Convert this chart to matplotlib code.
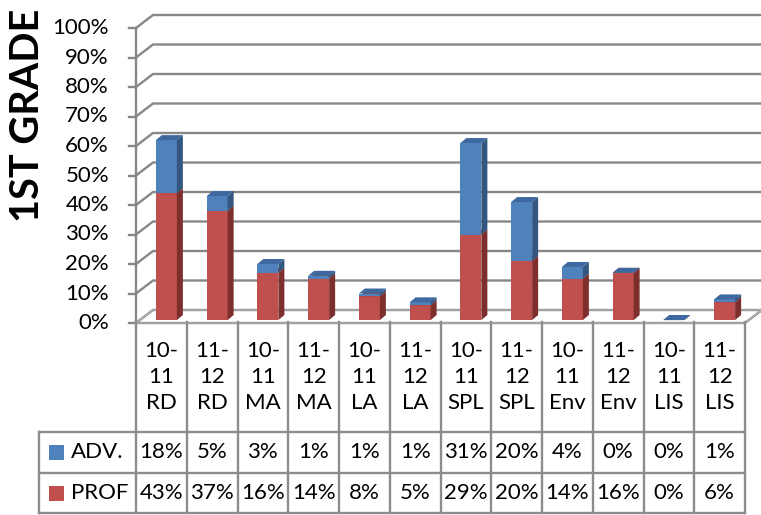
import matplotlib
matplotlib.use("Agg")
import matplotlib.pyplot as plt
from matplotlib.patches import Polygon, Rectangle

# data
categories = ["10-\n11\nRD", "11-\n12\nRD", "10-\n11\nMA", "11-\n12\nMA",
              "10-\n11\nLA", "11-\n12\nLA", "10-\n11\nSPL", "11-\n12\nSPL",
              "10-\n11\nEnv", "11-\n12\nEnv", "10-\n11\nLIS", "11-\n12\nLIS"]
prof = [43, 37, 16, 14, 8, 5, 29, 20, 14, 16, 0, 6]
adv = [18, 5, 3, 1, 1, 1, 31, 20, 4, 0, 0, 1]
series_names = ["ADV.", "PROF"]
yticks = list(range(0, 101, 10))

plt.rcParams["font.family"] = ["Lato", "DejaVu Sans"]
FS = 16

W, H = 761, 515
fig = plt.figure(figsize=(W / 100, H / 100), dpi=100)

# pixel geometry of the plot area
x0, x1 = 136, 745      # front edge of the floor / table columns
y0, y100 = 323, 28     # 0% and 100% on the front axis
ax = fig.add_axes([x0 / W, (H - y0) / H, (x1 - x0) / W, (y0 - y100) / H])
ax.set_xlim(-0.5, 11.5)
ax.set_ylim(0, 100)
ax.axis("off")

px_x = 12 / (x1 - x0)        # data units per pixel
px_y = 100 / (y0 - y100)

grid_c = "#878787"
wall_dx, wall_dy = 17 * px_x, 13 * px_y

# back wall gridlines + side wall diagonals
for t in yticks:
    ax.plot([-0.5, -0.5 + wall_dx, 11.5 + wall_dx + 0.5],
            [t, t + wall_dy, t + wall_dy], color=grid_c, lw=1.7,
            clip_on=False, zorder=1, solid_capstyle="butt")
    ax.plot([-0.5 - 7 * px_x, -0.5], [t, t], color=grid_c, lw=1.7,
            clip_on=False, zorder=1)
    ax.text(-0.5 - 27 * px_x, t, f"{t}%", ha="right", va="center",
            fontsize=FS, color="black")

# floor
ax.plot([-0.5, 11.5, 11.5 + wall_dx], [0, 0, wall_dy], color=grid_c,
        lw=1.7, clip_on=False, zorder=1)
ax.add_patch(Polygon([(-0.5, 0), (11.5, 0), (11.5 + wall_dx, wall_dy),
                      (-0.5 + wall_dx, wall_dy)], closed=True,
                     facecolor="none", edgecolor="#b8b8b8", lw=0.8,
                     clip_on=False, zorder=1))
# front vertical axis
ax.plot([-0.5, -0.5], [0, 100], color=grid_c, lw=1.7, clip_on=False, zorder=2)

# 3d stacked bars
bw = 21 * px_x
bx = 5 * px_x
by = 1.0
dx, dy = 6 * px_x, 5 * px_y
colors = {
    "PROF": ("#C0504D", "#7E2F2D", "#A5403D"),
    "ADV.": ("#4F81BD", "#34577F", "#3E68A0"),
}


def box(xl, bottom, height, cols, z):
    front, side, top = cols
    ax.bar(xl, height, width=bw, bottom=bottom, align="edge", color=front,
           edgecolor="none", zorder=z, clip_on=False)
    ax.add_patch(Polygon([(xl + bw, bottom), (xl + bw + dx, bottom + dy),
                          (xl + bw + dx, bottom + height + dy),
                          (xl + bw, bottom + height)], closed=True,
                         facecolor=side, edgecolor="none", zorder=z,
                         clip_on=False))
    ax.add_patch(Polygon([(xl, bottom + height), (xl + bw, bottom + height),
                          (xl + bw + dx, bottom + height + dy),
                          (xl + dx, bottom + height + dy)], closed=True,
                         facecolor=top, edgecolor="none", zorder=z + 0.1,
                         clip_on=False))


for i in range(len(categories)):
    xl = i - bw / 2 + bx
    box(xl, by, prof[i], colors["PROF"], 3)
    box(xl, by + prof[i], adv[i], colors["ADV."], 3.2)

# title
fig.text(28 / W, 1 - 115 / H, "1ST GRADE", rotation=90, ha="center",
         va="center", fontsize=28.5, fontweight="bold")

# data table
tb = fig.add_axes([x0 / W, (H - 513) / H, (x1 - x0) / W, (513 - 326) / H])
tb.set_xlim(-0.5, 11.5)
tb.set_ylim(0, 187)
tb.axis("off")
tpx = 12 / (x1 - x0)
left = -0.5 - (x0 - 39) * tpx
tab_c = "#8c8c8c"
row_prof, row_adv, row_cat = 0, 40, 81

for k in range(len(categories) + 1):
    tb.plot([k - 0.5, k - 0.5], [0, 187 + 4], color=tab_c, lw=1.7,
            clip_on=False)
for yy in [0, row_adv, row_cat]:
    tb.plot([left, 11.5], [yy, yy], color=tab_c, lw=1.7, clip_on=False)
tb.plot([left, left], [0, row_cat], color=tab_c, lw=1.7, clip_on=False)

for i, lab in enumerate(categories):
    tb.text(i, (row_cat + 187) / 2 + 2, lab, ha="center", va="center",
            fontsize=FS, linespacing=1.4)
    tb.text(i, (row_adv + row_cat) / 2, f"{adv[i]}%", ha="center",
            va="center", fontsize=FS)
    tb.text(i, (row_prof + row_adv) / 2, f"{prof[i]}%", ha="center",
            va="center", fontsize=FS)

sq = 15 * tpx
for name, yc in zip(series_names, [(row_adv + row_cat) / 2, row_adv / 2]):
    tb.add_patch(Rectangle((left + 10 * tpx, yc - 7.5), sq, 15,
                           facecolor=colors[name][0], edgecolor="none",
                           clip_on=False))
    tb.text(left + 32 * tpx, yc, name, ha="left", va="center", fontsize=FS)

fig.savefig("out.png", dpi=100)
